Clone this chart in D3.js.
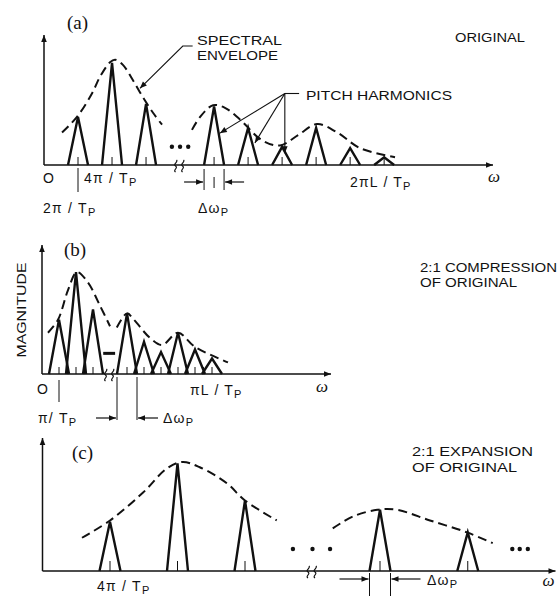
<!DOCTYPE html>
<html>
<head>
<meta charset="utf-8">
<script src="https://cdn.jsdelivr.net/npm/d3@7/dist/d3.min.js"></script>
<style>
body { margin: 0; background: #fff; }
text { font-family: "Liberation Sans", Arial, sans-serif; fill: #111; }
.lbl { font-size: 12px; }
.math { font-size: 14px; letter-spacing: 1.2px; }
.panel-id { font-family: "Liberation Serif", serif; font-size: 19px; }
.omega { font-family: "Liberation Serif", serif; font-style: italic; font-size: 17px; }
</style>
</head>
<body>
<svg id="fig" width="558" height="596"></svg>
<script>
// harmonic numbers (after the break the axis jumps, k=4 is where the break sits)
var harmA = [1, 2, 3, 5, 6, 7, 8, 9, 10];
var peakA = [0.37, 0.785, 0.47, 0.45, 0.285, 0.14, 0.285, 0.13, 0.06];
var envA1 = [[0.53,0.25],[0.97,0.37],[1.41,0.55],[1.65,0.68],[1.94,0.79],[2.09,0.81],[2.32,0.77],[2.62,0.65],[2.91,0.52],[3.21,0.40],[3.47,0.31]];
var envA2 = [[4.35,0.27],[4.59,0.37],[4.97,0.46],[5.32,0.44],[5.76,0.35],[6.41,0.19],[6.94,0.15],[7.47,0.23],[8.03,0.315],[8.62,0.25],[9.29,0.13],[10.32,0.06]];

var harmB = [1, 2, 3, 5, 6, 7, 8, 9, 10];
var peakB = [0.42, 0.79, 0.50, 0.47, 0.25, 0.17, 0.32, 0.19, 0.12];
var envB1 = [[0.35,0.32],[0.94,0.42],[1.53,0.65],[2.06,0.79],[2.7,0.71],[3.41,0.53],[4.0,0.37]];
var envB2 = [[4.4,0.36],[5.0,0.47],[5.41,0.42],[6.35,0.28],[7.06,0.225],[8.0,0.32],[9.0,0.21],[10.94,0.09]];

var harmC = [1, 2, 3, 5, 6.3];
var peakC = [0.37, 0.81, 0.53, 0.46, 0.29];
var envC1 = [[0.585,0.25],[1.0,0.38],[1.49,0.59],[1.84,0.77],[2.07,0.82],[2.33,0.78],[2.73,0.66],[3.0,0.53],[3.47,0.38]];
var envC2 = [[4.3,0.32],[4.6,0.41],[4.96,0.46],[5.25,0.46],[5.74,0.38],[6.29,0.29],[6.67,0.21]];

var svg = d3.select("#fig");

var defs = svg.append("defs");
defs.append("marker")
	.attr("id", "ah")
	.attr("viewBox", "0 0 10 10")
	.attr("refX", 10).attr("refY", 5)
	.attr("markerWidth", 9).attr("markerHeight", 7)
	.attr("markerUnits", "userSpaceOnUse")
	.attr("orient", "auto")
	.append("path").attr("d", "M0,1L10,5L0,9z").attr("fill", "#111");

var ink = "#111";

function drawPanel(c) {
	var g = svg.append("g");
	var x = c.x, y = c.y;
	var base = y(0);

	// axes
	g.append("line")
		.attr("x1", x(0)).attr("y1", base).attr("x2", x(0)).attr("y2", y(1))
		.attr("stroke", ink).attr("stroke-width", 1.5).attr("marker-end", "url(#ah)");
	g.append("line")
		.attr("x1", x(0)).attr("y1", base).attr("x2", x.range()[1]).attr("y2", base)
		.attr("stroke", ink).attr("stroke-width", 1.5).attr("marker-end", "url(#ah)");

	// little ticks at the harmonic centres
	var ticks = c.harm.slice();
	if (c.halfTicks) {
		c.harm.forEach(function(k, i) {
			if (i < c.harm.length - 1 && c.harm[i + 1] - k === 1) ticks.push(k + 0.5);
		});
	}
	g.selectAll(".tk").data(ticks).enter().append("line")
		.attr("x1", function(d) { return x(d); }).attr("x2", function(d) { return x(d); })
		.attr("y1", base).attr("y2", base - c.tickLen)
		.attr("stroke", ink).attr("stroke-width", 1);

	// harmonic triangles
	g.selectAll(".tri").data(c.harm).enter().append("path")
		.attr("d", function(d, i) {
			return "M" + (x(d) - c.hw) + "," + base + "L" + x(d) + "," + y(c.peak[i]) + "L" + (x(d) + c.hw) + "," + base;
		})
		.attr("fill", "none").attr("stroke", ink).attr("stroke-width", 2.4)
		.attr("stroke-linejoin", "miter");

	// spectral envelope
	var line = d3.line()
		.x(function(d) { return x(d[0]); })
		.y(function(d) { return y(d[1]); })
		.curve(d3.curveCatmullRom);
	c.env.forEach(function(e) {
		g.append("path").attr("d", line(e))
			.attr("fill", "none").attr("stroke", ink).attr("stroke-width", 2)
			.attr("stroke-dasharray", "9,5");
	});

	// axis break squiggles
	[-3.5, 3.5].forEach(function(off) {
		var bx = x(c.brk) + off;
		g.append("path")
			.attr("d", "M" + (bx - 1) + "," + (base + 7) + "c-3,-2 3,-4 0,-6c-3,-2 3,-4 1,-6")
			.attr("fill", "none").attr("stroke", ink).attr("stroke-width", 1.2);
	});

	// omega label
	g.append("text").attr("class", "omega")
		.attr("x", x.range()[1] + c.omegaDx).attr("y", base + c.omegaDy).text("\u03c9");

	// delta omega bandwidth marker around harmonic 5
	var bw = c.bw;
	var xl = x(5) - c.hw, xr = x(5) + c.hw;
	[xl, xr].forEach(function(v) {
		g.append("line").attr("x1", v).attr("x2", v).attr("y1", bw.y1).attr("y2", bw.y2)
			.attr("stroke", ink).attr("stroke-width", 1);
	});
	g.append("line").attr("x1", xl - bw.len).attr("x2", xl - 1).attr("y1", bw.ay).attr("y2", bw.ay)
		.attr("stroke", ink).attr("stroke-width", 1.2).attr("marker-end", "url(#ah)");
	g.append("line").attr("x1", xr + bw.len).attr("x2", xr + 1).attr("y1", bw.ay).attr("y2", bw.ay)
		.attr("stroke", ink).attr("stroke-width", 1.2).attr("marker-end", "url(#ah)");
	var dt = g.append("text").attr("class", "math").attr("x", bw.tx).attr("y", bw.ty);
	dt.append("tspan").text("\u0394\u03c9");
	dt.append("tspan").attr("font-size", 11).attr("dy", 3).text("P");

	return g;
}

function mathLabel(g, xx, yy, main) {
	var t = g.append("text").attr("class", "math").attr("x", xx).attr("y", yy);
	t.append("tspan").text(main);
	t.append("tspan").attr("font-size", 11).attr("dy", 3).text("P");
	return t;
}

function caps(g, xx, yy, s, len) {
	return g.append("text").attr("class", "lbl").attr("x", xx).attr("y", yy)
		.attr("textLength", len).attr("lengthAdjust", "spacingAndGlyphs").text(s);
}

// ---------- (a) original ----------
var xA = d3.scaleLinear().domain([0, 13.2]).range([44, 493]);
var yA = d3.scaleLinear().domain([0, 1]).range([165, 35]);
var gA = drawPanel({
	x: xA, y: yA, harm: harmA, peak: peakA, env: [envA1, envA2],
	hw: 10, tickLen: 8, brk: 4, omegaDx: -5, omegaDy: 17,
	bw: { y1: 169, y2: 190, ay: 182, len: 20, tx: 198, ty: 213 }
});
gA.append("line").attr("x1", xA(5)).attr("x2", xA(5)).attr("y1", 177).attr("y2", 188)
	.attr("stroke", ink).attr("stroke-width", 1);
gA.selectAll(".dot").data([3.76, 4, 4.24]).enter().append("circle")
	.attr("cx", function(d) { return xA(d); }).attr("cy", yA(0.14)).attr("r", 2.2).attr("fill", ink);
gA.append("text").attr("class", "panel-id").attr("x", 67).attr("y", 29).text("(a)");
caps(gA, 455, 42, "ORIGINAL", 70);
caps(gA, 197, 45, "SPECTRAL", 85);
caps(gA, 197, 60, "ENVELOPE", 81);
caps(gA, 306, 100, "PITCH HARMONICS", 146);
// leader lines
gA.append("path")
	.attr("d", "M" + xA(4.37) + "," + yA(0.915) + "L" + xA(4.08) + "," + yA(0.915) + "L" + xA(2.82) + "," + yA(0.59))
	.attr("fill", "none").attr("stroke", ink).attr("stroke-width", 1.1).attr("marker-end", "url(#ah)");
var jx = xA(7.08), jy = yA(0.55);
gA.append("line").attr("x1", xA(7.5)).attr("x2", jx).attr("y1", jy).attr("y2", jy)
	.attr("stroke", ink).attr("stroke-width", 1.1);
[[5.17, 0.245], [6.2, 0.17], [7.08, 0.09]].forEach(function(p) {
	gA.append("line").attr("x1", jx).attr("y1", jy).attr("x2", xA(p[0])).attr("y2", yA(p[1]))
		.attr("stroke", ink).attr("stroke-width", 1.1).attr("marker-end", "url(#ah)");
});
gA.append("text").attr("class", "math").attr("x", xA(0) - 1).attr("y", 183).text("O");
gA.append("line").attr("x1", xA(1)).attr("x2", xA(1)).attr("y1", 168).attr("y2", 192)
	.attr("stroke", ink).attr("stroke-width", 1);
mathLabel(gA, 84, 183, "4\u03c0 / T");
mathLabel(gA, 43, 213, "2\u03c0 / T");
mathLabel(gA, 350, 187, "2\u03c0L / T");

// ---------- (b) 2:1 compression ----------
var xB = d3.scaleLinear().domain([0, 17]).range([42, 331]);
var yB = d3.scaleLinear().domain([0, 1]).range([374, 245]);
var gB = drawPanel({
	x: xB, y: yB, harm: harmB, peak: peakB, env: [envB1, envB2],
	hw: 10, tickLen: 7, brk: 4, omegaDx: -15, omegaDy: 18, halfTicks: true,
	bw: { y1: 377, y2: 420, ay: 418, len: 21, tx: 163, ty: 423 }
});
gB.append("line").attr("x1", xB(3.6)).attr("x2", xB(4.3)).attr("y1", yB(0.16)).attr("y2", yB(0.16))
	.attr("stroke", ink).attr("stroke-width", 3);
gB.append("text").attr("class", "panel-id").attr("x", 64).attr("y", 256).text("(b)");
caps(gB, 420, 272, "2:1 COMPRESSION", 137);
caps(gB, 420, 287, "OF ORIGINAL", 97);
gB.append("text").attr("class", "lbl")
	.attr("transform", "translate(26,310) rotate(-90)")
	.attr("text-anchor", "middle").attr("textLength", 95).attr("lengthAdjust", "spacingAndGlyphs")
	.text("MAGNITUDE");
gB.append("text").attr("class", "math").attr("x", 37).attr("y", 394).text("O");
gB.append("line").attr("x1", xB(1)).attr("x2", xB(1)).attr("y1", 380).attr("y2", 402)
	.attr("stroke", ink).attr("stroke-width", 1);
mathLabel(gB, 38, 423, "\u03c0/ T");
mathLabel(gB, 190, 395, "\u03c0L / T");

// ---------- (c) 2:1 expansion ----------
var xC = d3.scaleLinear().domain([0, 7.6]).range([42.5, 555.5]);
var yC = d3.scaleLinear().domain([0, 1]).range([571, 438]);
var gC = drawPanel({
	x: xC, y: yC, harm: harmC, peak: peakC, env: [envC1, envC2],
	hw: 10.5, tickLen: 10, brk: 4, omegaDx: -13, omegaDy: 15,
	bw: { y1: 573, y2: 596, ay: 579, len: 30, tx: 427, ty: 585 }
});
gC.selectAll(".dot").data([3.71, 4, 4.26, 6.96, 7.07, 7.19]).enter().append("circle")
	.attr("cx", function(d) { return xC(d); }).attr("cy", yC(0.165)).attr("r", 2.2).attr("fill", ink);
gC.append("text").attr("class", "panel-id").attr("x", 72).attr("y", 459).text("(c)");
caps(gC, 412, 456, "2:1 EXPANSION", 121);
caps(gC, 412, 472, "OF ORIGINAL", 105);
mathLabel(gC, 97, 591, "4\u03c0 / T");
</script>
</body>
</html>
